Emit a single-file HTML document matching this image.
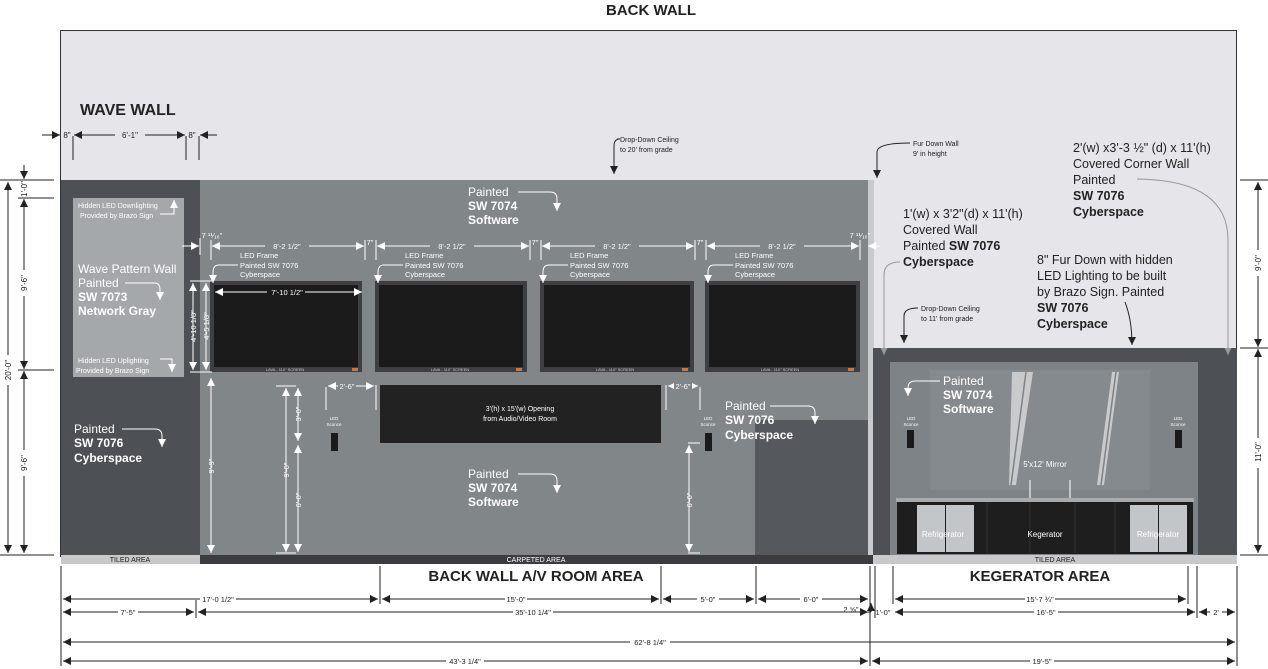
<!DOCTYPE html>
<html><head><meta charset="utf-8"><style>
html,body{margin:0;padding:0;background:#fff;width:1268px;height:669px;overflow:hidden}
svg{display:block;font-family:"Liberation Sans",Arial,sans-serif}
.w{fill:#fff}.b{fill:#222}
.lw{stroke:#fff;stroke-width:1;fill:none}
.lb{stroke:#222;stroke-width:1;fill:none}
</style></head><body>
<svg width="1268" height="669" viewBox="0 0 1268 669">
<defs>
<marker id="aw" viewBox="0 0 10 10" refX="10" refY="5" markerWidth="8" markerHeight="8" orient="auto-start-reverse"><path d="M0,0L10,5L0,10z" fill="#fff"/></marker>
<marker id="ab" viewBox="0 0 10 10" refX="10" refY="5" markerWidth="8" markerHeight="8" orient="auto-start-reverse"><path d="M0,0L10,5L0,10z" fill="#222"/></marker>
<marker id="ag" viewBox="0 0 10 10" refX="10" refY="5" markerWidth="7" markerHeight="7" orient="auto"><path d="M0,0L10,5L0,10z" fill="#999"/></marker>
</defs>

<text x="651" y="15" text-anchor="middle" font-size="15" font-weight="bold" fill="#222">BACK WALL</text>

<rect x="60.5" y="30.5" width="1176" height="526" fill="#e6e6ea" stroke="#333"/>
<text x="80" y="115" font-size="16" font-weight="bold" fill="#222">WAVE WALL</text>

<rect x="61" y="180" width="139" height="375" fill="#4d5156"/>
<rect x="73" y="198" width="111" height="179" fill="#a5a8ab"/>
<rect x="200" y="180" width="668" height="375" fill="#818689"/>
<rect x="755" y="420" width="113" height="135" fill="#55595e"/>
<rect x="868" y="180" width="6" height="375" fill="#c9cacd"/>
<rect x="873" y="348" width="364" height="207" fill="#4d5156"/>
<rect x="890" y="362" width="308" height="193" fill="#7e8387"/>
<rect x="930" y="370" width="220" height="120" fill="#858a8e"/>
<g fill="#c8cacc">
<polygon points="1012,372 1033,372 1016,485 1009,485"/>
<polygon points="1112,372 1119,372 1104,485 1097,485"/>
</g>
<g stroke="#7e8387" stroke-width="1.5"><line x1="1026" y1="372" x2="1011" y2="485"/><line x1="1116" y1="372" x2="1101" y2="485"/></g>
<text x="1045" y="467" text-anchor="middle" font-size="8" fill="#fff">5'x12' Mirror</text>
<g stroke="#ddd" stroke-width="1.5"><line x1="1030" y1="480" x2="1030" y2="498"/><line x1="1070" y1="480" x2="1070" y2="498"/></g>
<rect x="896" y="498" width="298" height="4" fill="#aaa"/>
<rect x="897" y="502" width="296" height="52" fill="#1e1e1e"/>
<rect x="917" y="505" width="28" height="47" fill="#c3c6c9"/><rect x="946" y="505" width="28" height="47" fill="#c3c6c9"/>
<rect x="1130" y="505" width="28" height="47" fill="#c3c6c9"/><rect x="1159" y="505" width="28" height="47" fill="#c3c6c9"/>
<g stroke="#333"><line x1="987" y1="503" x2="987" y2="553"/><line x1="1030" y1="503" x2="1030" y2="553"/><line x1="1075" y1="503" x2="1075" y2="553"/><line x1="1115" y1="503" x2="1115" y2="553"/></g>
<text x="943" y="537" text-anchor="middle" font-size="8" fill="#fff">Refrigerator</text>
<text x="1045" y="537" text-anchor="middle" font-size="8" fill="#fff">Kegerator</text>
<text x="1158" y="537" text-anchor="middle" font-size="8" fill="#fff">Refrigerator</text>

<rect x="61" y="555" width="139" height="9" fill="#c9c9cb"/>
<rect x="200" y="555" width="673" height="9" fill="#3a3c3f"/>
<rect x="873" y="555" width="364" height="9" fill="#c9c9cb"/>
<text x="130" y="562" text-anchor="middle" font-size="7" fill="#222">TILED AREA</text>
<text x="536" y="562" text-anchor="middle" font-size="7" fill="#fff">CARPETED AREA</text>
<text x="1055" y="562" text-anchor="middle" font-size="7" fill="#222">TILED AREA</text>

<g>
<rect x="210" y="281" width="152" height="91" fill="#3d3f43"/><rect x="214" y="285" width="144" height="82" fill="#1b1b1b"/>
<rect x="375" y="281" width="152" height="91" fill="#3d3f43"/><rect x="379" y="285" width="144" height="82" fill="#1b1b1b"/>
<rect x="540" y="281" width="154" height="91" fill="#3d3f43"/><rect x="544" y="285" width="146" height="82" fill="#1b1b1b"/>
<rect x="705" y="281" width="155" height="91" fill="#3d3f43"/><rect x="709" y="285" width="147" height="82" fill="#1b1b1b"/>
<g fill="#d0773a"><rect x="352" y="368" width="6" height="3"/><rect x="516" y="368" width="6" height="3"/><rect x="682" y="368" width="6" height="3"/><rect x="848" y="368" width="6" height="3"/></g>
<g font-size="4" fill="#ccc" text-anchor="middle"><text x="285" y="371">LAVA - 110" SCREEN</text><text x="450" y="371">LAVA - 110" SCREEN</text><text x="615" y="371">LAVA - 110" SCREEN</text><text x="780" y="371">LAVA - 110" SCREEN</text></g>
</g>
<rect x="380" y="385" width="281" height="58" fill="#222"/>
<text x="520" y="411" text-anchor="middle" font-size="7" fill="#fff">3'(h) x 15'(w) Opening</text>
<text x="520" y="421" text-anchor="middle" font-size="7" fill="#fff">from Audio/Video Room</text>

<g fill="#1a1a1a"><rect x="331" y="433" width="7" height="18"/><rect x="705" y="433" width="7" height="18"/><rect x="907" y="430" width="7" height="18"/><rect x="1175" y="430" width="7" height="18"/></g>
<g font-size="4.5" fill="#fff" text-anchor="middle">
<text x="334" y="420">LED</text><text x="334" y="426">Sconce</text>
<text x="708" y="420">LED</text><text x="708" y="426">Sconce</text>
<text x="911" y="420">LED</text><text x="911" y="426">Sconce</text>
<text x="1178" y="420">LED</text><text x="1178" y="426">Sconce</text>
</g>

<g fill="#fff" font-size="7">
<text x="78" y="208">Hidden LED Downlighting</text><text x="80" y="218">Provided by Brazo Sign</text>
<text x="78" y="363">Hidden LED Uplighting</text><text x="76" y="373">Provided by Brazo Sign</text>
</g>
<path class="lw" d="M160,214 H174 V200" marker-end="url(#aw)"/>
<path class="lw" d="M160,359 H172 V372" marker-end="url(#aw)"/>
<text x="78" y="273" font-size="12" fill="#fff">Wave Pattern Wall</text>
<text x="78" y="287" font-size="12" fill="#fff">Painted</text>
<text x="78" y="301" font-size="12" font-weight="bold" fill="#fff">SW 7073</text>
<text x="78" y="315" font-size="12" font-weight="bold" fill="#fff">Network Gray</text>
<path class="lw" d="M125,283 H155 Q160,283 160,290 V300" marker-end="url(#aw)"/>

<g font-size="12" fill="#fff">
<text x="74" y="433">Painted</text><text x="74" y="447" font-weight="bold">SW 7076</text><text x="74" y="462" font-weight="bold">Cyberspace</text>
<text x="468" y="196">Painted</text><text x="468" y="210" font-weight="bold">SW 7074</text><text x="468" y="224" font-weight="bold">Software</text>
<text x="468" y="478">Painted</text><text x="468" y="492" font-weight="bold">SW 7074</text><text x="468" y="506" font-weight="bold">Software</text>
<text x="725" y="410">Painted</text><text x="725" y="424" font-weight="bold">SW 7076</text><text x="725" y="439" font-weight="bold">Cyberspace</text>
<text x="943" y="385">Painted</text><text x="943" y="399" font-weight="bold">SW 7074</text><text x="943" y="413" font-weight="bold">Software</text>
</g>
<path class="lw" d="M122,429 H155 Q162,429 162,436 V447" marker-end="url(#aw)"/>
<path class="lw" d="M518,192 H550 Q557,192 557,199 V211" marker-end="url(#aw)"/>
<path class="lw" d="M518,474 H550 Q557,474 557,481 V493" marker-end="url(#aw)"/>
<path class="lw" d="M770,406 H808 Q815,406 815,413 V424" marker-end="url(#aw)"/>
<path class="lw" d="M940,381 H915 Q908,381 908,388 V396" marker-end="url(#aw)"/>

<g font-size="7.5" fill="#fff">
<text x="240" y="258">LED Frame</text><text x="240" y="268">Painted SW 7076</text><text x="240" y="277">Cyberspace</text>
<text x="405" y="258">LED Frame</text><text x="405" y="268">Painted SW 7076</text><text x="405" y="277">Cyberspace</text>
<text x="570" y="258">LED Frame</text><text x="570" y="268">Painted SW 7076</text><text x="570" y="277">Cyberspace</text>
<text x="735" y="258">LED Frame</text><text x="735" y="268">Painted SW 7076</text><text x="735" y="277">Cyberspace</text>
</g>
<path class="lw" d="M238,265 H219 Q213,265 213,272 V283" marker-end="url(#aw)"/>
<path class="lw" d="M403,265 H384 Q378,265 378,272 V283" marker-end="url(#aw)"/>
<path class="lw" d="M568,265 H549 Q543,265 543,272 V283" marker-end="url(#aw)"/>
<path class="lw" d="M733,265 H714 Q708,265 708,272 V283" marker-end="url(#aw)"/>

<g stroke="#fff">
<line x1="200" y1="238" x2="200" y2="255"/><line x1="211" y1="240" x2="211" y2="260"/>
<line x1="365" y1="240" x2="365" y2="260"/><line x1="376" y1="240" x2="376" y2="260"/>
<line x1="530" y1="240" x2="530" y2="260"/><line x1="541" y1="240" x2="541" y2="260"/>
<line x1="695" y1="240" x2="695" y2="260"/><line x1="706" y1="240" x2="706" y2="260"/>
<line x1="860" y1="240" x2="860" y2="260"/>
</g>
<g fill="none" stroke="#fff">
<line x1="212" y1="246" x2="364" y2="246" marker-start="url(#aw)" marker-end="url(#aw)"/>
<line x1="377" y1="246" x2="529" y2="246" marker-start="url(#aw)" marker-end="url(#aw)"/>
<line x1="542" y1="246" x2="694" y2="246" marker-start="url(#aw)" marker-end="url(#aw)"/>
<line x1="707" y1="246" x2="859" y2="246" marker-start="url(#aw)" marker-end="url(#aw)"/>
<line x1="182" y1="246" x2="199" y2="246" marker-end="url(#aw)"/>
<line x1="215" y1="292" x2="362" y2="292" marker-start="url(#aw)" marker-end="url(#aw)"/>
</g>
<g font-size="7.5" fill="#fff" text-anchor="middle">
<rect x="265" y="241" width="44" height="9" fill="#818689"/><text x="287" y="249">8'-2 1/2"</text>
<rect x="430" y="241" width="44" height="9" fill="#818689"/><text x="452" y="249">8'-2 1/2"</text>
<rect x="595" y="241" width="44" height="9" fill="#818689"/><text x="617" y="249">8'-2 1/2"</text>
<rect x="760" y="241" width="44" height="9" fill="#818689"/><text x="782" y="249">8'-2 1/2"</text>
<text x="370" y="245">7"</text><text x="535" y="245">7"</text><text x="700" y="245">7"</text>
<text x="212" y="238">7 ¹¹⁄₁₆"</text><text x="860" y="238">7 ¹¹⁄₁₆"</text>
<rect x="267" y="288" width="38" height="9" fill="#1b1b1b"/><text x="287" y="295">7'-10 1/2"</text>
</g>
<g fill="none" stroke="#fff">
<line x1="190" y1="281" x2="212" y2="281"/><line x1="190" y1="372" x2="212" y2="372"/>
<line x1="193" y1="283" x2="193" y2="370" marker-start="url(#aw)" marker-end="url(#aw)"/>
<line x1="206" y1="283" x2="206" y2="370" marker-start="url(#aw)" marker-end="url(#aw)"/>
<line x1="211" y1="378" x2="211" y2="553" marker-start="url(#aw)" marker-end="url(#aw)"/>
<line x1="276" y1="386" x2="296" y2="386"/><line x1="276" y1="553" x2="296" y2="553"/>
<line x1="286" y1="388" x2="286" y2="552" marker-start="url(#aw)" marker-end="url(#aw)"/>
<line x1="298" y1="388" x2="298" y2="441" marker-start="url(#aw)" marker-end="url(#aw)"/>
<line x1="298" y1="445" x2="298" y2="552" marker-start="url(#aw)" marker-end="url(#aw)"/>
<line x1="688" y1="443" x2="700" y2="443"/><line x1="688" y1="553" x2="700" y2="553"/>
<line x1="689" y1="445" x2="689" y2="552" marker-start="url(#aw)" marker-end="url(#aw)"/>
<line x1="326" y1="387" x2="326" y2="410"/><line x1="376" y1="385" x2="376" y2="410"/>
<line x1="328" y1="386" x2="374" y2="386" marker-start="url(#aw)" marker-end="url(#aw)"/>
<line x1="666" y1="385" x2="666" y2="410"/><line x1="700" y1="387" x2="700" y2="410"/>
<line x1="668" y1="386" x2="698" y2="386" marker-start="url(#aw)" marker-end="url(#aw)"/>
</g>
<g font-size="7.5" fill="#fff" text-anchor="middle">
<rect x="338" y="382" width="18" height="8" fill="#818689"/><text x="347" y="389">2'-6"</text>
<rect x="674" y="382" width="18" height="8" fill="#818689"/><text x="683" y="389">2'-6"</text>
<text transform="translate(196,326) rotate(-90)">4'-10 1/8"</text>
<text transform="translate(209,326) rotate(-90)">4'-5 1/8"</text>
<text transform="translate(214,466) rotate(-90)">9'-9"</text>
<text transform="translate(289,470) rotate(-90)">9'-0"</text>
<text transform="translate(301,414) rotate(-90)">3'-0"</text>
<text transform="translate(301,500) rotate(-90)">6'-0"</text>
<text transform="translate(692,500) rotate(-90)">6'-0"</text>
</g>

<g font-size="7" fill="#222">
<text x="620" y="142">Drop-Down Ceiling</text><text x="620" y="152">to 20' from grade</text>
<text x="913" y="146">Fur Down Wall</text><text x="913" y="156">9' in height</text>
<text x="921" y="311">Drop-Down Ceiling</text><text x="921" y="321">to 11' from grade</text>
</g>
<path class="lb" d="M617,139 H620 Q614,139 614,146 V174" marker-end="url(#ab)"/>
<path class="lb" d="M910,143 Q877,143 877,152 V178" marker-end="url(#ab)"/>
<path class="lb" d="M918,308 Q904,308 904,316 V343" marker-end="url(#ab)"/>
<g font-size="12.5" fill="#222">
<text x="903" y="218">1'(w) x 3'2"(d) x 11'(h)</text>
<text x="903" y="234">Covered Wall</text>
<text x="903" y="250">Painted <tspan font-weight="bold">SW 7076</tspan></text>
<text x="903" y="266" font-weight="bold">Cyberspace</text>
<text x="1073" y="152">2'(w) x3'-3 ½" (d) x 11'(h)</text>
<text x="1073" y="168">Covered Corner Wall</text>
<text x="1073" y="184">Painted</text>
<text x="1073" y="200" font-weight="bold">SW 7076</text>
<text x="1073" y="216" font-weight="bold">Cyberspace</text>
<text x="1037" y="264">8" Fur Down with hidden</text>
<text x="1037" y="280">LED Lighting to be built</text>
<text x="1037" y="296">by Brazo Sign. Painted</text>
<text x="1037" y="312" font-weight="bold">SW 7076</text>
<text x="1037" y="328" font-weight="bold">Cyberspace</text>
</g>
<path d="M900,262 Q884,262 884,275 V355" fill="none" stroke="#999" marker-end="url(#ag)"/>
<path d="M1137,179 Q1228,180 1228,240 V355" fill="none" stroke="#999" marker-end="url(#ag)"/>
<path class="lb" d="M1125,302 Q1132,320 1132,345" marker-end="url(#ab)"/>
<line x1="880" y1="246" x2="868" y2="246" stroke="#fff" marker-end="url(#aw)"/>

<g class="lb" stroke="#222">
<line x1="73" y1="136" x2="73" y2="160"/><line x1="186" y1="136" x2="186" y2="160"/><line x1="199" y1="136" x2="199" y2="160"/>
<line x1="42" y1="135" x2="60" y2="135" marker-end="url(#ab)"/>
<line x1="74" y1="135" x2="185" y2="135" marker-start="url(#ab)" marker-end="url(#ab)"/>
<line x1="200" y1="135" x2="217" y2="135" marker-start="url(#ab)"/>
</g>
<g font-size="8" fill="#222" text-anchor="middle">
<text x="67" y="138">8"</text><rect x="115" y="130" width="30" height="9" fill="#e6e6ea"/><text x="130" y="138">6'-1"</text><text x="192" y="138">8"</text>
</g>

<g stroke="#222" fill="none">
<line x1="0" y1="180" x2="54" y2="180"/><line x1="18" y1="198" x2="54" y2="198"/><line x1="18" y1="370" x2="54" y2="370"/><line x1="0" y1="555" x2="54" y2="555"/>
<line x1="8" y1="182" x2="8" y2="553" marker-start="url(#ab)" marker-end="url(#ab)"/>
<line x1="24" y1="165" x2="24" y2="179" marker-end="url(#ab)"/>
<line x1="24" y1="199" x2="24" y2="369" marker-start="url(#ab)" marker-end="url(#ab)"/>
<line x1="24" y1="371" x2="24" y2="553" marker-start="url(#ab)" marker-end="url(#ab)"/>
<line x1="1240" y1="180" x2="1268" y2="180"/><line x1="1240" y1="348" x2="1268" y2="348"/><line x1="1240" y1="555" x2="1268" y2="555"/>
<line x1="1258" y1="182" x2="1258" y2="347" marker-start="url(#ab)" marker-end="url(#ab)"/>
<line x1="1258" y1="349" x2="1258" y2="553" marker-start="url(#ab)" marker-end="url(#ab)"/>
</g>
<g font-size="8" fill="#222" text-anchor="middle">
<rect x="3" y="355" width="10" height="30" fill="#fff"/><text transform="translate(11,370) rotate(-90)">20'-0"</text>
<rect x="19" y="270" width="10" height="26" fill="#fff"/><text transform="translate(27,283) rotate(-90)">9'-6"</text>
<rect x="19" y="450" width="10" height="26" fill="#fff"/><text transform="translate(27,463) rotate(-90)">9'-6"</text>
<text transform="translate(27,189) rotate(-90)">1'-0"</text>
<rect x="1253" y="250" width="10" height="26" fill="#fff"/><text transform="translate(1261,263) rotate(-90)">9'-0"</text>
<rect x="1253" y="438" width="10" height="30" fill="#fff"/><text transform="translate(1261,452) rotate(-90)">11'-0"</text>
</g>

<text x="536" y="581" text-anchor="middle" font-size="15" font-weight="bold" fill="#222">BACK WALL A/V ROOM AREA</text>
<text x="1040" y="581" text-anchor="middle" font-size="15" font-weight="bold" fill="#222">KEGERATOR AREA</text>

<g stroke="#222" fill="none">
<line x1="61" y1="566" x2="61" y2="666"/><line x1="1237" y1="566" x2="1237" y2="666"/>
<line x1="196" y1="600" x2="196" y2="618"/><line x1="380" y1="566" x2="380" y2="604"/><line x1="661" y1="566" x2="661" y2="604"/>
<line x1="756" y1="566" x2="756" y2="604"/><line x1="870" y1="566" x2="870" y2="666"/><line x1="875" y1="566" x2="875" y2="618"/>
<line x1="893" y1="566" x2="893" y2="604"/><line x1="1188" y1="566" x2="1188" y2="604"/><line x1="1197" y1="566" x2="1197" y2="618"/>
<line x1="63" y1="599" x2="378" y2="599" marker-start="url(#ab)" marker-end="url(#ab)"/>
<line x1="382" y1="599" x2="659" y2="599" marker-start="url(#ab)" marker-end="url(#ab)"/>
<line x1="663" y1="599" x2="754" y2="599" marker-start="url(#ab)" marker-end="url(#ab)"/>
<line x1="758" y1="599" x2="868" y2="599" marker-start="url(#ab)" marker-end="url(#ab)"/>
<line x1="895" y1="599" x2="1186" y2="599" marker-start="url(#ab)" marker-end="url(#ab)"/>
<line x1="63" y1="612" x2="194" y2="612" marker-start="url(#ab)" marker-end="url(#ab)"/>
<line x1="198" y1="612" x2="868" y2="612" marker-start="url(#ab)" marker-end="url(#ab)"/>
<line x1="895" y1="612" x2="1195" y2="612" marker-start="url(#ab)" marker-end="url(#ab)"/>
<line x1="1199" y1="612" x2="1235" y2="612" marker-start="url(#ab)" marker-end="url(#ab)"/>
<line x1="63" y1="642" x2="1235" y2="642" marker-start="url(#ab)" marker-end="url(#ab)"/>
<line x1="63" y1="661" x2="868" y2="661" marker-start="url(#ab)" marker-end="url(#ab)"/>
<line x1="872" y1="661" x2="1235" y2="661" marker-start="url(#ab)" marker-end="url(#ab)"/>
<line x1="860" y1="612" x2="871" y2="612"/><line x1="871" y1="612" x2="871" y2="603" marker-end="url(#ab)"/>
</g>
<g font-size="7.5" fill="#222" text-anchor="middle">
<rect x="200" y="595" width="36" height="8" fill="#fff"/><text x="218" y="602">17'-0 1/2"</text>
<rect x="505" y="595" width="22" height="8" fill="#fff"/><text x="516" y="602">15'-0"</text>
<rect x="697" y="595" width="22" height="8" fill="#fff"/><text x="708" y="602">5'-0"</text>
<rect x="800" y="595" width="22" height="8" fill="#fff"/><text x="811" y="602">6'-0"</text>
<rect x="1025" y="595" width="30" height="8" fill="#fff"/><text x="1040" y="602">15'-7 ¾"</text>
<rect x="118" y="608" width="20" height="8" fill="#fff"/><text x="128" y="615">7'-5"</text>
<rect x="513" y="608" width="40" height="8" fill="#fff"/><text x="533" y="615">35'-10 1/4"</text>
<text x="851" y="612">2 ⅝"</text>
<rect x="877" y="608" width="14" height="8" fill="#fff"/><text x="883" y="615">1'-0"</text>
<rect x="1034" y="608" width="24" height="8" fill="#fff"/><text x="1046" y="615">16'-5"</text>
<rect x="1210" y="608" width="12" height="8" fill="#fff"/><text x="1216" y="615">2'</text>
<rect x="630" y="638" width="40" height="8" fill="#fff"/><text x="650" y="645">62'-8 1/4"</text>
<rect x="446" y="657" width="38" height="8" fill="#fff"/><text x="465" y="664">43'-3 1/4"</text>
<rect x="1030" y="657" width="24" height="8" fill="#fff"/><text x="1042" y="664">19'-5"</text>
</g>
</svg>
</body></html>
